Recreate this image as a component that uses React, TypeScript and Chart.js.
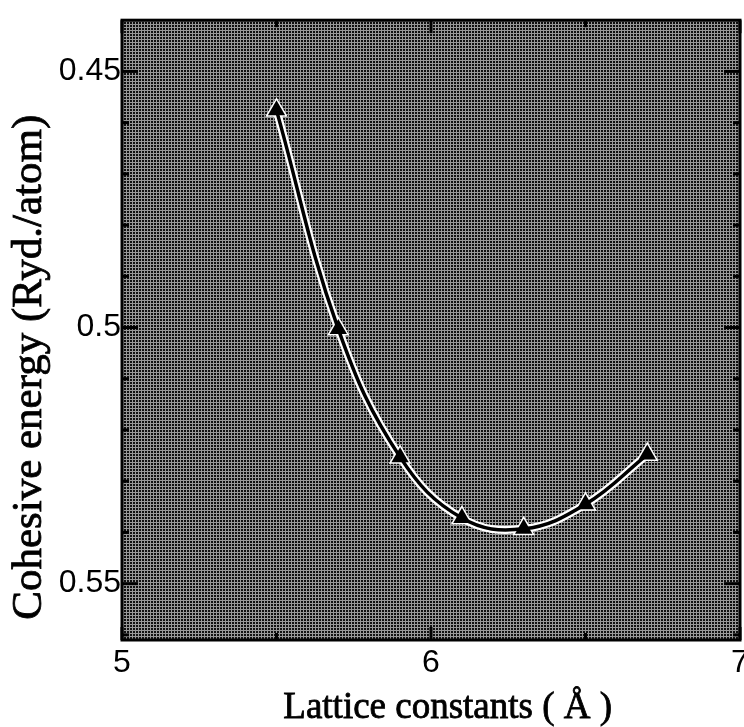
import React, { useEffect, useRef } from "react";
import { Chart, registerables } from "chart.js";

Chart.register(...registerables);

// Lattice constants (Å)
const latticeConstants = [5.5, 5.7, 5.9, 6.1, 6.3, 6.5, 6.7];
// Cohesive energy (Ryd./atom)
const cohesiveEnergies = [0.4576, 0.5003, 0.5253, 0.5372, 0.5393, 0.5345, 0.5248];

const xMajorTicks = [5, 6, 7];
const xTickLabels = ["5", "6", "7"];
const xMinorTicks = [5.5, 6.5];
const yMajorTicks = [0.45, 0.5, 0.55];
const yTickLabels = ["0.45", "0.5", "0.55"];
const yMinorTicks = [0.46, 0.47, 0.48, 0.49, 0.51, 0.52, 0.53, 0.54, 0.56];

const xTitle = "Lattice constants ( Å )";
const yTitle = "Cohesive energy (Ryd./atom)";

function makePattern(ctx: CanvasRenderingContext2D) {
  const c = document.createElement("canvas");
  c.width = 3;
  c.height = 3;
  const p = c.getContext("2d")!;
  p.fillStyle = "#101010";
  p.fillRect(0, 0, 3, 3);
  p.fillStyle = "#989898";
  p.fillRect(0, 0, 3, 1);
  p.fillRect(0, 0, 1, 3);
  return ctx.createPattern(c, "repeat");
}

const framePlugin = {
  id: "frameAndTitles",
  beforeDatasetsDraw(chart: any) {
    const { ctx, chartArea } = chart;
    const pat = makePattern(ctx);
    ctx.save();
    ctx.fillStyle = pat || "#555";
    ctx.fillRect(chartArea.left, chartArea.top, chartArea.right - chartArea.left, chartArea.bottom - chartArea.top);
    ctx.restore();
  },
  afterDatasetsDraw(chart: any) {
    const { ctx, chartArea, scales } = chart;
    const { left, right, top, bottom } = chartArea;
    ctx.save();
    ctx.strokeStyle = "#000";
    ctx.lineWidth = 3;
    ctx.strokeRect(left, top, right - left, bottom - top);
    const tick = (x1: number, y1: number, x2: number, y2: number) => {
      ctx.beginPath();
      ctx.moveTo(x1, y1);
      ctx.lineTo(x2, y2);
      ctx.stroke();
    };
    xMajorTicks.forEach((v) => {
      const px = scales.x.getPixelForValue(v);
      tick(px, bottom, px, bottom - 13);
      tick(px, top, px, top + 13);
    });
    xMinorTicks.forEach((v) => {
      const px = scales.x.getPixelForValue(v);
      tick(px, bottom, px, bottom - 7);
      tick(px, top, px, top + 7);
    });
    yMajorTicks.forEach((v) => {
      const py = scales.y.getPixelForValue(v);
      tick(left, py, left + 16, py);
      tick(right, py, right - 16, py);
    });
    yMinorTicks.forEach((v) => {
      const py = scales.y.getPixelForValue(v);
      tick(left, py, left + 7, py);
      tick(right, py, right - 7, py);
    });
    ctx.restore();

    // axis titles
    ctx.save();
    ctx.fillStyle = "#000";
    ctx.strokeStyle = "#000";
    ctx.lineWidth = 0.8;
    ctx.font = '37px "Liberation Serif"';
    ctx.textAlign = "center";
    ctx.textBaseline = "alphabetic";
    const xt = left + (right - left) * 0.527;
    ctx.fillText(xTitle, xt, bottom + 78);
    ctx.strokeText(xTitle, xt, bottom + 78);
    ctx.translate(left - 92, top + (bottom - top) * 0.56);
    ctx.rotate(-Math.PI / 2);
    ctx.textBaseline = "middle";
    ctx.font = '43px "Liberation Serif"';
    ctx.fillText(yTitle, 0, 0);
    ctx.strokeText(yTitle, 0, 0);
    ctx.restore();
  },
};

export default function App() {
  const ref = useRef<HTMLCanvasElement>(null);
  useEffect(() => {
    const points = latticeConstants.map((x, i) => ({ x, y: cohesiveEnergies[i] }));
    const chart = new Chart(ref.current!, {
      type: "line",
      data: {
        datasets: [
          {
            data: points,
            order: 2,
            borderColor: "#ffffff",
            backgroundColor: "#ffffff",
            borderWidth: 8,
            tension: 0.4,
            pointStyle: "triangle",
            pointRadius: 13,
            pointBackgroundColor: "#ffffff",
            pointBorderWidth: 0,
            fill: false,
          },
          {
            data: points,
            order: 1,
            borderColor: "#000000",
            backgroundColor: "#000000",
            borderWidth: 3.5,
            tension: 0.4,
            pointStyle: "triangle",
            pointRadius: 10,
            pointBackgroundColor: "#000000",
            pointBorderWidth: 0,
            fill: false,
          },
        ],
      },
      options: {
        responsive: false,
        animation: false,
        layout: { padding: { top: 17, left: 0, right: 20, bottom: 0 } },
        plugins: { legend: { display: false }, tooltip: { enabled: false } },
        scales: {
          x: {
            type: "linear",
            min: 5,
            max: 7,
            afterBuildTicks: (s: any) => {
              s.ticks = xMajorTicks.map((v) => ({ value: v }));
            },
            afterFit: (s: any) => {
              s.height = 87;
            },
            grid: { display: false, drawTicks: false },
            border: { display: false },
            ticks: {
              color: "#000",
              padding: 4,
              maxRotation: 0,
              font: { family: "Liberation Sans", size: 32 },
              callback: (_v: any, i: number) => xTickLabels[i],
            },
          },
          y: {
            type: "linear",
            reverse: true,
            min: 0.44,
            max: 0.561,
            afterBuildTicks: (s: any) => {
              s.ticks = yMajorTicks.map((v) => ({ value: v }));
            },
            afterFit: (s: any) => {
              s.width = 122;
            },
            grid: { display: false, drawTicks: false },
            border: { display: false },
            ticks: {
              color: "#000",
              padding: 1,
              font: { family: "Liberation Sans", size: 32 },
              callback: (_v: any, i: number) => yTickLabels[i],
            },
          },
        },
      },
      plugins: [framePlugin],
    });
    return () => chart.destroy();
  }, []);
  return (
    <div
      style={{
        position: "fixed",
        left: 0,
        top: 0,
        width: 744,
        height: 727,
        overflow: "hidden",
        background: "#fff",
      }}
    >
      <canvas ref={ref} width={760} height={727} style={{ display: "block" }} />
    </div>
  );
}
